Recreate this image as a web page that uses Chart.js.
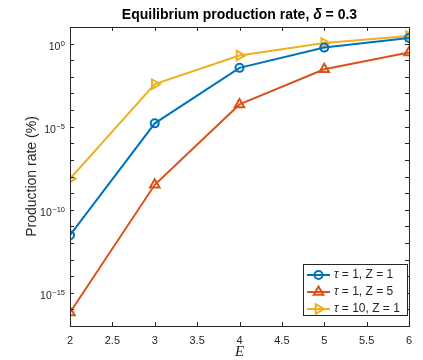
<!DOCTYPE html>
<html><head><meta charset="utf-8">
<script src="https://cdn.jsdelivr.net/npm/chart.js@4/dist/chart.umd.min.js"></script>
<style>html,body{margin:0;padding:0;background:#fff}#wrap{width:423px;height:360px}</style>
</head><body><div id="wrap"><canvas id="c" width="423" height="360"></canvas></div>
<script>
const E = [2, 3, 4, 5, 6];
const tau1Z1 = [2.95e-12, 1.58e-5, 0.0347, 0.575, 2.19];
const tau1Z5 = [6.46e-17, 3.16e-9, 2.19e-4, 0.0288, 0.288];
const tau10Z1 = [7.24e-9, 3.63e-3, 0.19, 1.10, 2.88];
const seriesLabels = ['τ = 1, Z = 1', 'τ = 1, Z = 5', 'τ = 10, Z = 1'];
const xTicks = [2, 2.5, 3, 3.5, 4, 4.5, 5, 5.5, 6];
const yDecades = [-17,-16,-15,-14,-13,-12,-11,-10,-9,-8,-7,-6,-5,-4,-3,-2,-1,0,1];
const yLabelDecades = [0, -5, -10, -15];
const titleParts = [['Equilibrium production rate, ', 'bold'], ['δ', 'italic bold'], [' = 0.3', 'bold']];

const AX = '#262626';
const FONT = '"Liberation Sans", Arial, sans-serif';

const colors = ['#0072BD', '#D95319', '#EDB120'];
function ds(label, data, color, style, rot, r) {
  return {label, data: E.map((x, i) => ({x, y: data[i]})), borderColor: color, backgroundColor: 'rgba(0,0,0,0)',
    borderWidth: 2, pointStyle: style, rotation: rot, pointRadius: r, pointBorderWidth: 2,
    pointBackgroundColor: 'rgba(0,0,0,0)', pointBorderColor: color, tension: 0};
}

const framePlugin = {
  id: 'frame',
  afterDraw(chart) {
    const {ctx, chartArea: a, scales: {x, y}} = chart;
    ctx.save();
    ctx.strokeStyle = AX; ctx.lineWidth = 1;
    ctx.strokeRect(a.left + 0.5, a.top + 0.5, a.right - a.left, a.bottom - a.top);
    ctx.beginPath();
    const tl = 4;
    xTicks.forEach(v => {
      const px = Math.round(x.getPixelForValue(v)) + 0.5;
      ctx.moveTo(px, a.bottom); ctx.lineTo(px, a.bottom - tl);
      ctx.moveTo(px, a.top); ctx.lineTo(px, a.top + tl);
    });
    yDecades.forEach(d => {
      const py = Math.round(y.getPixelForValue(Math.pow(10, d))) + 0.5;
      ctx.moveTo(a.left, py); ctx.lineTo(a.left + tl, py);
      ctx.moveTo(a.right, py); ctx.lineTo(a.right - tl, py);
    });
    ctx.stroke();

    // y tick labels: 10 with superscript exponent
    ctx.fillStyle = AX; ctx.textBaseline = 'alphabetic';
    yLabelDecades.forEach(d => {
      const py = y.getPixelForValue(Math.pow(10, d));
      ctx.font = '7.5px ' + FONT; ctx.textAlign = 'right';
      const ex = String(d).replace('-', '\u2212');
      const ew = ctx.measureText(ex).width;
      const rx = a.left - 5;
      ctx.fillText(ex, rx, py + 2);
      ctx.font = '10.5px ' + FONT;
      ctx.fillText('10', rx - ew - 0.5, py + 6.5);
    });

    // title
    ctx.fillStyle = '#000';
    ctx.textBaseline = 'middle';
    let total = 0;
    titleParts.forEach(([t, f]) => { ctx.font = f + ' 14px ' + FONT; total += ctx.measureText(t).width; });
    let tx = (a.left + a.right) / 2 - total / 2;
    titleParts.forEach(([t, f]) => { ctx.font = f + ' 14px ' + FONT; ctx.textAlign = 'left'; ctx.fillText(t, tx, 15); tx += ctx.measureText(t).width; });

    // legend
    const lx = 303, ly = 264, lw = 104, lh = 51;
    ctx.fillStyle = '#fff';
    ctx.fillRect(lx, ly, lw, lh);
    ctx.strokeStyle = AX; ctx.lineWidth = 1;
    ctx.strokeRect(lx + 0.5, ly + 0.5, lw, lh);
    chart.data.datasets.forEach((d, i) => {
      const cy = ly + 11 + i * 17;
      ctx.strokeStyle = d.borderColor; ctx.lineWidth = 2;
      ctx.beginPath(); ctx.moveTo(lx + 4, cy); ctx.lineTo(lx + 27, cy); ctx.stroke();
      ctx.fillStyle = 'rgba(0,0,0,0)';
      Chart.helpers.drawPoint(ctx, {pointStyle: d.pointStyle, rotation: d.rotation, radius: d.pointRadius, borderWidth: 2}, lx + 15.5, cy);
      ctx.fillStyle = AX; ctx.textAlign = 'left'; ctx.textBaseline = 'middle';
      ctx.font = 'italic 12px ' + FONT;
      const first = d.label[0];
      ctx.fillText(first, lx + 31, cy);
      const w = ctx.measureText(first).width;
      ctx.font = '12px ' + FONT;
      ctx.fillText(d.label.slice(1), lx + 31 + w, cy);
    });
    ctx.restore();
  }
};

new Chart(document.getElementById('c'), {
  type: 'line',
  data: {datasets: [
    ds(seriesLabels[0], tau1Z1, colors[0], 'circle', 0, 4),
    ds(seriesLabels[1], tau1Z5, colors[1], 'triangle', 0, 5.5),
    ds(seriesLabels[2], tau10Z1, colors[2], 'triangle', 90, 5.5)
  ]},
  options: {
    responsive: false, animation: false, devicePixelRatio: 1,
    layout: {padding: {left: 0, right: 14, top: 27, bottom: 0}},
    plugins: {legend: {display: false}, title: {display: false}, tooltip: {enabled: false}},
    scales: {
      x: {type: 'linear', min: 2, max: 6,
        afterFit: s => { s.height = 34; },
        afterBuildTicks: s => { s.ticks = xTicks.map(v => ({value: v})); },
        grid: {display: false, drawTicks: false}, border: {display: false},
        ticks: {color: AX, font: {size: 11, family: FONT}, padding: 8, maxRotation: 0, autoSkip: false,
          callback: v => String(v)},
        title: {display: true, text: 'E', color: AX, font: {size: 15, style: 'italic', family: '"Liberation Serif", "Times New Roman", serif', lineHeight: 1}, padding: {top: 0, bottom: 0}}
      },
      y: {type: 'logarithmic', min: 1e-17, max: 10,
        afterFit: s => { s.width = 70; },
        afterBuildTicks: s => { s.ticks = yDecades.map(d => ({value: Math.pow(10, d)})); },
        grid: {display: false, drawTicks: false}, border: {display: false},
        ticks: {display: false},
        title: {display: true, text: 'Production rate (%)', color: AX, font: {size: 14, family: FONT, lineHeight: 1.2}, padding: {top: 24, bottom: 0}}
      }
    }
  },
  plugins: [framePlugin]
});
</script></body></html>
